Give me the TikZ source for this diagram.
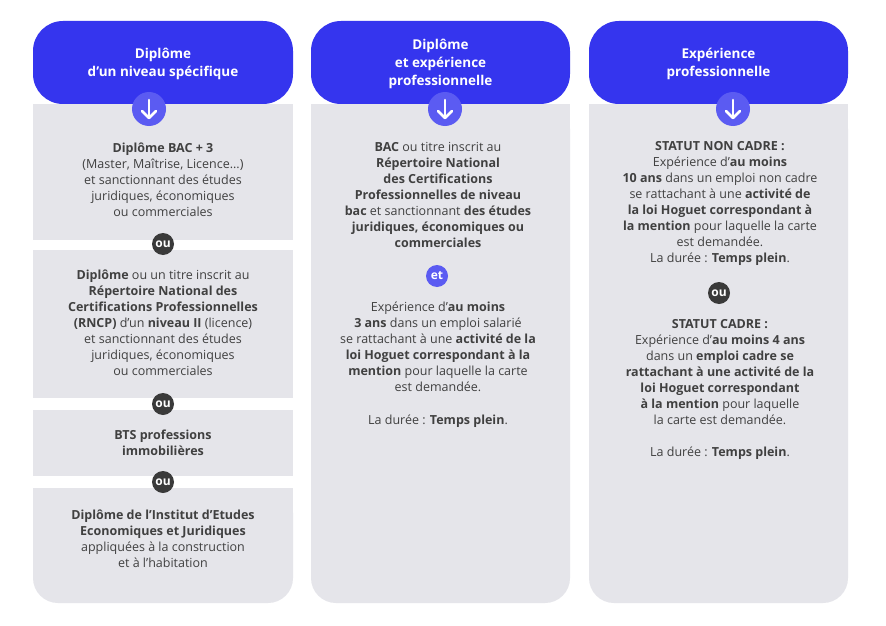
\documentclass[tikz,border=0pt]{standalone}
\usepackage{fontspec}
\setmainfont{Open Sans}
\definecolor{hblue}{HTML}{3535EE}
\definecolor{cblue}{HTML}{5B5BF2}
\definecolor{gbody}{HTML}{E5E5EA}
\definecolor{tx}{HTML}{404040}
\definecolor{badge}{HTML}{3A3A3A}
\tikzset{
 txt/.style={align=center,text=tx,font=\fontsize{12.5}{16}\selectfont},
 head/.style={align=center,text=white,font=\fontsize{13.5}{18}\selectfont\bfseries},
 oubadge/.style={circle,fill=badge,text=white,inner sep=0pt,minimum size=22,font=\fontsize{12}{12}\selectfont\bfseries},
 etbadge/.style={circle,fill=cblue,text=white,inner sep=0pt,minimum size=22,font=\fontsize{12}{12}\selectfont\bfseries},
 arr/.style={circle,fill=cblue,inner sep=0pt,minimum size=34},
}
\newcommand{\arrowicon}[2]{%
 \node[arr] (#2) at (#1,109) {};
 \draw[white,line width=2.6,line cap=round,line join=round] ([yshift=9]#2.center) -- ([yshift=-9]#2.center);
 \draw[white,line width=2.6,line cap=round,line join=round] ([xshift=-7,yshift=-2]#2.center) -- ([yshift=-9]#2.center) -- ([xshift=7,yshift=-2]#2.center);
}
\begin{document}
\begin{tikzpicture}[x=1pt,y=-1pt]
\useasboundingbox (0,0) rectangle (886,626);
\fill[white] (0,0) rectangle (886,626);
% column 1
\fill[hblue,rounded corners=30] (33,104) -- (33,21) -- (293,21) -- (293,104) -- cycle;
\fill[gbody] (33,104) rectangle (293,240);
\fill[gbody] (33,250) rectangle (293,398);
\fill[gbody] (33,410) rectangle (293,476);
\fill[gbody,rounded corners=25] (33,488) -- (293,488) -- (293,603) -- (33,603) -- cycle;
\fill[gbody] (33,488) rectangle (293,520);
% column 2
\fill[hblue,rounded corners=30] (311,104) -- (311,21) -- (570,21) -- (570,104) -- cycle;
\fill[gbody,rounded corners=25] (311,104) -- (570,104) -- (570,603) -- (311,603) -- cycle;
\fill[gbody] (311,104) rectangle (570,140);
% column 3
\fill[hblue,rounded corners=30] (589,104) -- (589,21) -- (848,21) -- (848,104) -- cycle;
\fill[gbody,rounded corners=25] (589,104) -- (848,104) -- (848,603) -- (589,603) -- cycle;
\fill[gbody] (589,104) rectangle (848,140);

\node[head] (h1) at (163,64) {Diplôme\\d’un niveau spécifique};
\node[head] (h2) at (440.5,64) {Diplôme\\et expérience\\professionnelle};
\node[head] (h3) at (718.5,64) {Expérience\\professionnelle};
\arrowicon{149}{a1}
\arrowicon{445}{a2}
\arrowicon{733}{a3}

\node[txt] (b1) at (163,180) {\textbf{Diplôme BAC + 3}\\(Master, Maîtrise, Licence...)\\et sanctionnant des études\\juridiques, économiques\\ou commerciales};
\node[oubadge] (o1) at (163,244) {ou};
\node[txt] (b2) at (163,323) {\textbf{Diplôme} ou un titre inscrit au\\\textbf{Répertoire National des}\\\textbf{Certifications Professionnelles}\\\textbf{(RNCP)} d’un \textbf{niveau II} (licence)\\et sanctionnant des études\\juridiques, économiques\\ou commerciales};
\node[oubadge] (o2) at (163,404) {ou};
\node[txt] (b3) at (163,443) {\textbf{BTS professions}\\\textbf{immobilières}};
\node[oubadge] (o3) at (163,482) {ou};
\node[txt] (b4) at (163,539) {\textbf{Diplôme de l’Institut d’Etudes}\\\textbf{Economiques et Juridiques}\\appliquées à la construction\\et à l’habitation};

\node[txt] (c1) at (438,195) {\textbf{BAC} ou titre inscrit au\\\textbf{Répertoire National}\\\textbf{des Certifications}\\\textbf{Professionnelles de niveau}\\\textbf{bac} et sanctionnant \textbf{des études}\\\textbf{juridiques, économiques ou}\\\textbf{commerciales}};
\node[etbadge] (e1) at (437,276) {et};
\node[txt] (c2) at (438,347) {Expérience d’\textbf{au moins}\\\textbf{3 ans} dans un emploi salarié\\se rattachant à une \textbf{activité de la}\\\textbf{loi Hoguet correspondant à la}\\\textbf{mention} pour laquelle la carte\\est demandée.};
\node[txt] (c3) at (438,421) {La durée : \textbf{Temps plein}.};

\node[txt] (d1) at (720,203) {\textbf{STATUT NON CADRE :}\\Expérience d’\textbf{au moins}\\\textbf{10 ans} dans un emploi non cadre\\se rattachant à une \textbf{activité de}\\\textbf{la loi Hoguet correspondant à}\\\textbf{la mention} pour laquelle la carte\\est demandée.\\La durée : \textbf{Temps plein}.};
\node[oubadge] (o4) at (719,293) {ou};
\node[txt] (d2) at (720,372) {\textbf{STATUT CADRE :}\\Expérience d’\textbf{au moins 4 ans}\\dans un \textbf{emploi cadre se}\\\textbf{rattachant à une activité de la}\\\textbf{loi Hoguet correspondant}\\\textbf{à la mention} pour laquelle\\la carte est demandée.};
\node[txt] (d3) at (720,453) {La durée : \textbf{Temps plein}.};
\end{tikzpicture}
\end{document}
